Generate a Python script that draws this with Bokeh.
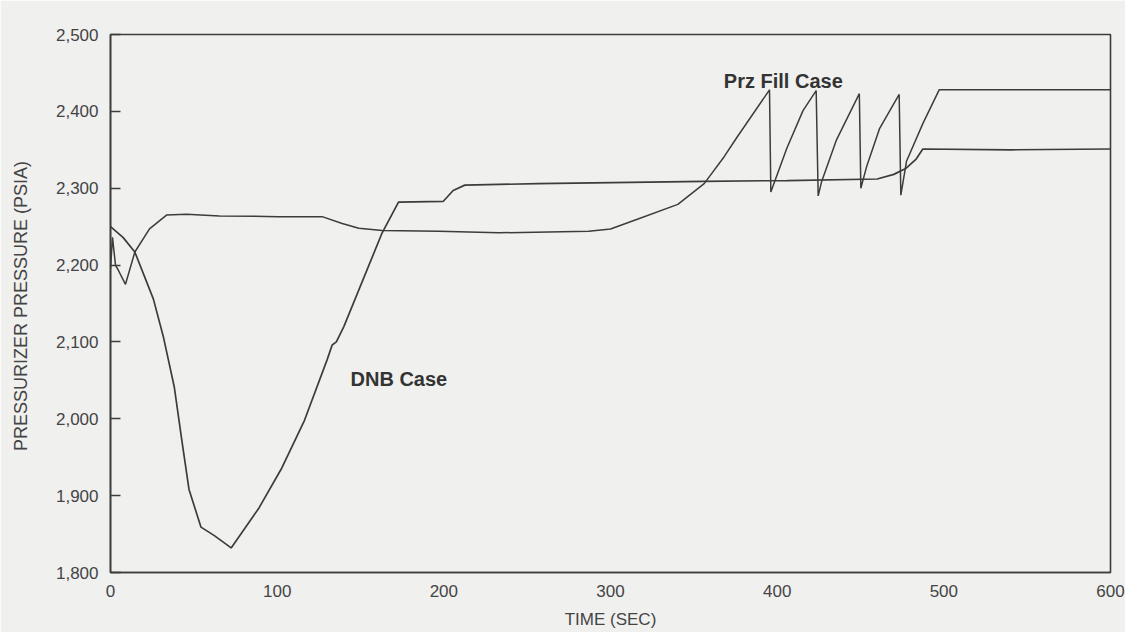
from bokeh.plotting import figure
from bokeh.models import Label, FixedTicker, NumeralTickFormatter, Range1d
from bokeh.embed import file_html
from bokeh.resources import INLINE

# ---- data ----
dnb_t = [0, 7.5, 14.6, 25.7, 31.9, 38.3, 42.8, 47.1, 54.3, 62.3, 72.4, 89.1, 102.8,
         116.4, 130, 133, 135.5, 140, 163, 172.8, 199.7, 205.6, 212.6, 256.5, 356,
         406, 460, 470, 477.4, 483.4, 487.4, 540, 600]
dnb_p = [2250, 2236, 2217, 2156, 2105, 2041, 1972, 1908, 1859, 1848, 1832, 1884, 1936,
         1998, 2077, 2096, 2100, 2120, 2242, 2282, 2283, 2297, 2304, 2306, 2309,
         2310, 2312, 2318, 2326, 2338, 2351, 2350, 2351]

prz_t = [0, 1.2, 3, 5, 9, 14.6, 23.4, 33.6, 45.6, 65.4, 101, 127, 139, 149, 163, 197,
         233, 287, 300, 316.5, 340.4, 356.2, 368.2, 375.8, 395.4, 396.2,
         405.8, 415.5, 423.4, 424.6, 426.6, 435.6, 449.3, 450.2, 453.8, 461.5, 473.2,
         474.2, 477.6, 487.4, 497.2, 600]
prz_p = [2195, 2236, 2200, 2192, 2175, 2217, 2247, 2265, 2266, 2264, 2263, 2263, 2254,
         2248, 2245, 2244, 2242, 2244, 2247, 2260, 2279, 2306, 2341, 2366, 2428, 2295,
         2352, 2401, 2427, 2290, 2308, 2363, 2423, 2300, 2329, 2378, 2422,
         2291, 2335, 2384, 2428, 2428]

x_ticks = [0, 100, 200, 300, 400, 500, 600]
y_ticks = [1800, 1900, 2000, 2100, 2200, 2300, 2400, 2500]

label_prz = "Prz Fill Case"
label_dnb = "DNB Case"
x_title = "TIME (SEC)"
y_title = "PRESSURIZER PRESSURE  (PSIA)"

paper = "#f0f0ef"
ink = "#3c3c3c"

p = figure(width=1125, height=632, output_backend="svg", toolbar_location=None,
           x_range=Range1d(0, 600), y_range=Range1d(1800, 2500),
           min_border_left=110, min_border_right=15, min_border_top=34, min_border_bottom=60,
           background_fill_color=paper, border_fill_color=paper)

p.xgrid.visible = False
p.ygrid.visible = False
p.outline_line_color = ink
p.outline_line_width = 1.6

for ax in (p.xaxis[0], p.yaxis[0]):
    ax.axis_line_color = ink
    ax.axis_line_width = 1.6
    ax.minor_tick_line_color = None
    ax.major_label_text_font = "Liberation Sans"
    ax.major_label_text_font_size = "17px"
    ax.major_label_text_color = "#444444"
    ax.major_tick_line_color = ink
    ax.major_tick_line_width = 1.4
    ax.axis_label_text_font = "Liberation Sans"
    ax.axis_label_text_font_style = "normal"
    ax.axis_label_text_color = "#444444"

p.xaxis.ticker = FixedTicker(ticks=x_ticks)
p.yaxis.ticker = FixedTicker(ticks=y_ticks)
p.yaxis.formatter = NumeralTickFormatter(format="0,0")
p.xaxis.major_tick_in = 0
p.xaxis.major_tick_out = 0
p.yaxis.major_tick_in = 10
p.yaxis.major_tick_out = 0
p.xaxis.major_label_standoff = 12
p.yaxis.major_label_standoff = 12

p.yaxis.axis_label = y_title
p.yaxis.axis_label_standoff = 22
p.yaxis.axis_label_text_font_size = "18px"

p.xaxis.axis_label = x_title
p.xaxis.axis_label_standoff = 10
p.xaxis.axis_label_text_font_size = "17px"

p.line(dnb_t, dnb_p, line_color=ink, line_width=1.7)
p.line(prz_t, prz_p, line_color=ink, line_width=1.5)

p.add_layout(Label(x=368, y=2439, text=label_prz, text_font="Liberation Sans",
                   text_font_size="20px", text_font_style="bold", text_color="#333333",
                   text_align="left", text_baseline="middle"))
p.add_layout(Label(x=144, y=2052, text=label_dnb, text_font="Liberation Sans",
                   text_font_size="20px", text_font_style="bold", text_color="#333333",
                   text_align="left", text_baseline="middle"))

open("out.html", "w").write(file_html(p, INLINE))
